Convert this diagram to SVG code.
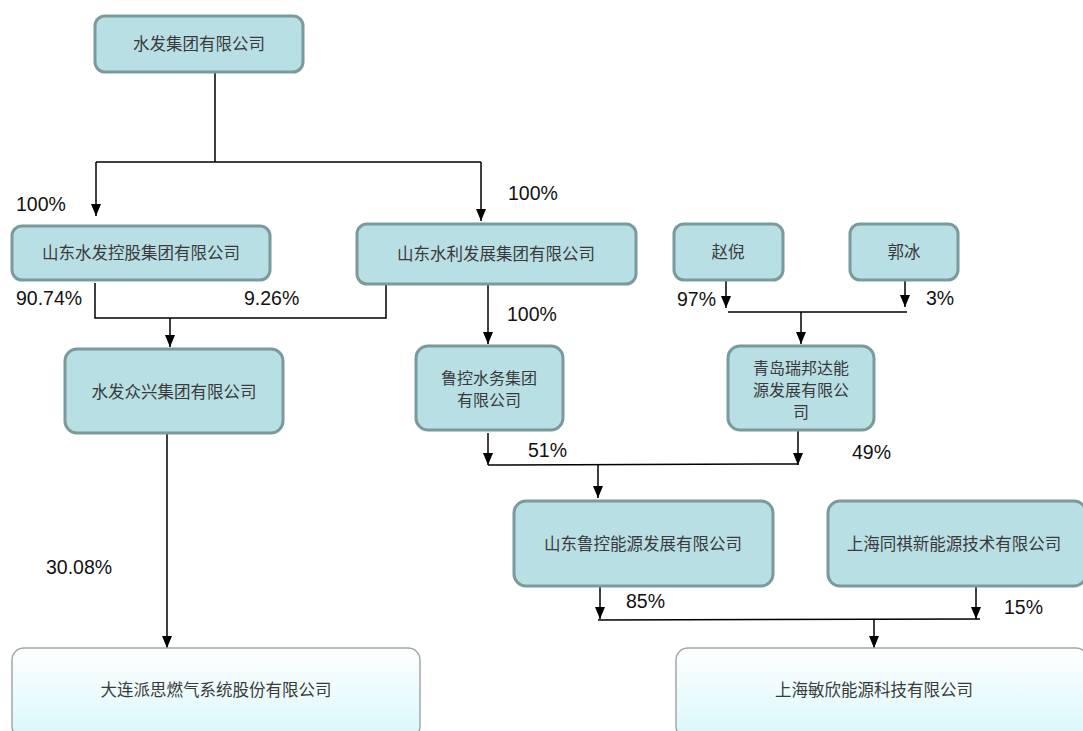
<svg xmlns="http://www.w3.org/2000/svg" width="1083" height="731" viewBox="0 0 1083 731">
<defs>
<linearGradient id="lg" x1="0" y1="0" x2="0" y2="1">
<stop offset="0" stop-color="#ffffff"/>
<stop offset="1" stop-color="#d9f7fa"/>
</linearGradient>
<marker id="ah" viewBox="0 0 12 10" refX="12" refY="5" markerWidth="12" markerHeight="10" markerUnits="userSpaceOnUse" orient="auto">
<path d="M0,0 L12,5 L0,10 Z" fill="#000"/>
</marker>
</defs>
<style>
.box{fill:#b8dfe3;stroke:#7b9a9c;stroke-width:3}
.tbox{fill:url(#lg);stroke:#a0a8a8;stroke-width:1.5}
.cn{font-family:"Noto Sans CJK SC","Liberation Sans",sans-serif;font-size:16.5px;fill:#3a3a3a;text-anchor:middle}
.cm{font-size:16px}
.pct{font-family:"Liberation Sans",Arial,sans-serif;font-size:19.5px;fill:#111}
.ln{fill:none;stroke:#000;stroke-width:1.5}
.ar{fill:none;stroke:#000;stroke-width:1.5;marker-end:url(#ah)}
</style>
<rect width="1083" height="731" fill="#fff"/>
<g id="connectors">
<polyline class="ln" points="215,72 215,162"/>
<polyline class="ln" points="96,162 481,162"/>
<line class="ar" x1="96" y1="162" x2="96" y2="216"/>
<line class="ar" x1="481" y1="162" x2="481" y2="221"/>
<polyline class="ln" points="95,283 95,318 386,318 386,284"/>
<line class="ar" x1="170" y1="318" x2="170" y2="347"/>
<line class="ar" x1="167" y1="433" x2="167" y2="648"/>
<line class="ar" x1="488" y1="285" x2="488" y2="344"/>
<line class="ar" x1="726" y1="280" x2="726" y2="308"/>
<line class="ar" x1="905" y1="278" x2="905" y2="307"/>
<polyline class="ln" points="728,312 907,312"/>
<line class="ar" x1="801" y1="312" x2="801" y2="344"/>
<line class="ar" x1="488" y1="433" x2="488" y2="465"/>
<line class="ar" x1="798" y1="431" x2="798" y2="465"/>
<polyline class="ln" points="488,465 798,464"/>
<line class="ar" x1="598" y1="465" x2="598" y2="498"/>
<line class="ar" x1="600" y1="587" x2="600" y2="619"/>
<line class="ar" x1="976" y1="587" x2="976" y2="619"/>
<polyline class="ln" points="598,620 980,619"/>
<line class="ar" x1="874" y1="620" x2="874" y2="648"/>
</g>
<g id="labels">
<text class="pct" x="16" y="211">100%</text>
<text class="pct" x="508" y="200">100%</text>
<text class="pct" x="16" y="305">90.74%</text>
<text class="pct" x="244" y="305">9.26%</text>
<text class="pct" x="507" y="321">100%</text>
<text class="pct" x="677" y="306">97%</text>
<text class="pct" x="926" y="305">3%</text>
<text class="pct" x="528" y="457">51%</text>
<text class="pct" x="852" y="459">49%</text>
<text class="pct" x="46" y="574">30.08%</text>
<text class="pct" x="626" y="608">85%</text>
<text class="pct" x="1004" y="614">15%</text>
</g>
<g id="n1"><rect class="box" x="95" y="16" width="208" height="56" rx="10"/><text class="cn" x="199" y="50">水发集团有限公司</text></g>
<g id="n2"><rect class="box" x="12" y="226" width="258" height="54" rx="10"/><text class="cn" x="141" y="259">山东水发控股集团有限公司</text></g>
<g id="n3"><rect class="box" x="357" y="224" width="279" height="60" rx="10"/><text class="cn" x="496" y="260">山东水利发展集团有限公司</text></g>
<g id="n4"><rect class="box" x="674" y="224" width="109" height="56" rx="10"/><text class="cn" x="728" y="258">赵倪</text></g>
<g id="n5"><rect class="box" x="850" y="224" width="108" height="56" rx="10"/><text class="cn" x="904" y="258">郭冰</text></g>
<g id="n6"><rect class="box" x="65" y="349" width="218" height="84" rx="12"/><text class="cn" x="174" y="398">水发众兴集团有限公司</text></g>
<g id="n7"><rect class="box" x="416" y="346" width="147" height="84" rx="12"/><text class="cn cm" x="489" y="384">鲁控水务集团</text><text class="cn cm" x="489" y="406">有限公司</text></g>
<g id="n8"><rect class="box" x="728" y="346" width="146" height="84" rx="12"/><text class="cn cm" x="801" y="374">青岛瑞邦达能</text><text class="cn cm" x="801" y="396">源发展有限公</text><text class="cn cm" x="801" y="418">司</text></g>
<g id="n9"><rect class="box" x="514" y="501" width="259" height="85" rx="12"/><text class="cn" x="643" y="550">山东鲁控能源发展有限公司</text></g>
<g id="n10"><rect class="box" x="828" y="501" width="258" height="85" rx="12"/><text class="cn" x="954" y="550">上海同祺新能源技术有限公司</text></g>
<g id="n11"><rect class="tbox" x="12" y="648" width="408" height="90" rx="12"/><text class="cn" x="216" y="696">大连派思燃气系统股份有限公司</text></g>
<g id="n12"><rect class="tbox" x="676" y="648" width="412" height="90" rx="12"/><text class="cn" x="874" y="696">上海敏欣能源科技有限公司</text></g>
</svg>
